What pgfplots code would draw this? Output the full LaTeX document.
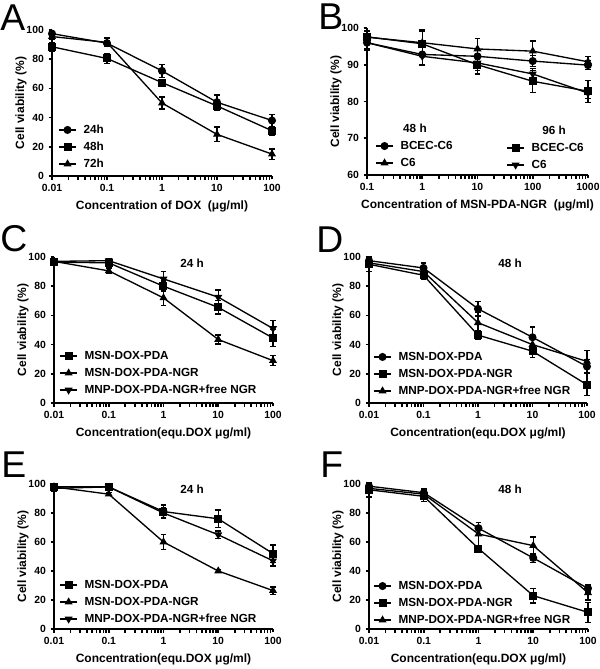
\documentclass[border=0pt]{standalone}
\usepackage{fontspec}
\setmainfont{Liberation Sans}
\usepackage{pgfplots}
\pgfplotsset{compat=1.18}

\newcommand\tickfont{\fontsize{7.8}{8}\selectfont\bfseries}
\newcommand\labfont{\fontsize{9}{10}\selectfont\bfseries}
\newcommand\legfont{\fontsize{8.8}{10}\selectfont\bfseries}
\newcommand\letfont{\fontsize{28}{28}\selectfont}

\pgfplotsset{
  legend image code/.code={\draw[mark repeat=2,mark phase=2,#1] plot coordinates {(0pt,0pt) (6.5pt,0pt) (13pt,0pt)};},
  ser/.style={black, line width=1pt, mark size=2.5pt, mark options={solid, fill=black}},
  prismax/.style={
    scale only axis, clip=false,
    axis x line*=bottom, axis y line*=left,
    axis line style={-, line width=1.2pt},
    minor x tick num=0, minor y tick num=0,
    tick align=outside, major tick length=2.6pt,
    every tick/.style={line width=1.2pt, black},
    tick label style={font=\tickfont},
    xlabel style={font=\labfont},
    ylabel style={font=\labfont},
    ylabel shift=-7pt,
    ylabel={Cell viability (\%)},
    legend cell align=left,
    legend style={draw=none, fill=none, font=\legfont, anchor=west, inner sep=0pt,
      row sep=4.75pt, nodes={inner sep=0pt, text height=6.5pt, text depth=1.5pt},
      /tikz/every odd column/.append style={column sep=5pt}},
    error bars/error bar style={line width=1pt},
    error bars/error mark options={rotate=90, mark size=2.1pt, line width=1pt, black},
  },
  doxx/.style={xmin=0.01, xmax=100, xtick={0.01,0.1,1,10,100}, xticklabels={0.01,0.1,1,10,100},
    ymin=0, ymax=100, ytick={0,20,40,60,80,100}},
}

\begin{document}
\begin{tikzpicture}
\useasboundingbox (0,0) rectangle (450pt,501.75pt);

% ---------------- A ----------------
\begin{axis}[xmode=log, prismax, doxx, /pgf/number format/assume math mode=true,
  at={(39pt,369.75pt)}, anchor=south west, width=165pt, height=109.5pt,
  xlabel={Concentration of DOX\ \ (μg/ml)},
  legend style={at={(0.027,0.199)}}]
\addplot[ser, mark=*, error bars/.cd, y dir=both, y explicit] coordinates {
 (0.01,97.5) +- (0,1.5) (0.1,91) +- (0,2) (1,72) +- (0,4.5) (10,50.5) +- (0,5) (100,38) +- (0,4)};
\addlegendentry{24h}
\addplot[ser, mark=square*, error bars/.cd, y dir=both, y explicit] coordinates {
 (0.01,88.5) +- (0,3) (0.1,80.5) +- (0,3.5) (1,64) +- (0,2) (10,48) +- (0,3) (100,31) +- (0,3)};
\addlegendentry{48h}
\addplot[ser, mark=triangle*, error bars/.cd, y dir=both, y explicit] coordinates {
 (0.01,95.5) +- (0,2) (0.1,91.5) +- (0,3) (1,50) +- (0,4) (10,28.5) +- (0,5) (100,15) +- (0,3.5)};
\addlegendentry{72h}
\end{axis}

% ---------------- B ----------------
\begin{axis}[xmode=log, prismax, /pgf/number format/assume math mode=true,
  at={(275.25pt,370.5pt)}, anchor=south west, width=165.75pt, height=110.25pt,
  xmin=0.1, xmax=1000, xtick={0.1,1,10,100,1000}, xticklabels={0.1,1,10,100,1000},
  ymin=60, ymax=100, ytick={60,70,80,90,100},
  xlabel={Concentration of MSN-PDA-NGR\ \ (μg/ml)},
  legend style={at={(0.036,0.197)}}]
\addlegendimage{empty legend}
\addlegendentry{\hspace*{2pt}48 h}
\addplot[ser, mark=*, error bars/.cd, y dir=both, y explicit] coordinates {
 (0.1,96) +- (0,2) (1,92.8) +- (0,2.8) (10,92.3) +- (0,2) (100,91) +- (0,1.5) (1000,89.9) +- (0,1.2)};
\addlegendentry{BCEC-C6}
\addplot[ser, mark=triangle*, error bars/.cd, y dir=both, y explicit] coordinates {
 (0.1,97.5) +- (0,1.5) (1,96) +- (0,3.5) (10,94.3) +- (0,2.8) (100,93.7) +- (0,2.8) (1000,90.8) +- (0,1.5)};
\addlegendentry{C6}
\end{axis}
\begin{axis}[xmode=log, prismax, hide axis,
  at={(275.25pt,370.5pt)}, anchor=south west, width=165.75pt, height=110.25pt,
  xmin=0.1, xmax=1000, ymin=60, ymax=100,
  legend style={at={(0.629,0.184)}}]
\addlegendimage{empty legend}
\addlegendentry{\hspace*{8pt}96 h}
\addplot[ser, mark=square*, error bars/.cd, y dir=both, y explicit] coordinates {
 (0.1,97.6) +- (0,1.8) (1,95.7) +- (0,3.5) (10,90) +- (0,2.5) (100,85.5) +- (0,3) (1000,82.8) +- (0,3)};
\addlegendentry{BCEC-C6}
\addplot[ser, mark=triangle*, mark options={rotate=180}, error bars/.cd, y dir=both, y explicit] coordinates {
 (0.1,96) +- (0,1.5) (1,92.3) +- (0,2.5) (10,90.5) +- (0,2) (100,87.5) +- (0,1.5) (1000,82.3) +- (0,1.5)};
\addlegendentry{C6}
\end{axis}

% ---------------- C ----------------
\begin{axis}[xmode=log, prismax, doxx, /pgf/number format/assume math mode=true,
  at={(40.5pt,199.5pt)}, anchor=south west, width=164.25pt, height=109.5pt,
  xlabel={Concentration(equ.DOX μg/ml)},
  legend style={at={(0.023,0.205)}}]
\addplot[ser, mark=square*, error bars/.cd, y dir=both, y explicit] coordinates {
 (0.01,96.5) +- (0,2.5) (0.1,96) +- (0,2.5) (1,80) +- (0,3.5) (10,65.5) +- (0,4.5) (100,44.5) +- (0,6)};
\addlegendentry{MSN-DOX-PDA}
\addplot[ser, mark=triangle*, error bars/.cd, y dir=both, y explicit] coordinates {
 (0.01,97) +- (0,1.5) (0.1,90.5) +- (0,2) (1,72) +- (0,5) (10,43.5) +- (0,3) (100,29) +- (0,3.5)};
\addlegendentry{MSN-DOX-PDA-NGR}
\addplot[ser, mark=triangle*, mark options={rotate=180}, error bars/.cd, y dir=both, y explicit] coordinates {
 (0.01,97) +- (0,1.5) (0.1,97.5) +- (0,1.5) (1,85) +- (0,5) (10,72.5) +- (0,5) (100,51) +- (0,5.5)};
\addlegendentry{MNP-DOX-PDA-NGR+free NGR}
\end{axis}

% ---------------- D ----------------
\begin{axis}[xmode=log, prismax, doxx, /pgf/number format/assume math mode=true,
  at={(276.75pt,199.5pt)}, anchor=south west, width=163.5pt, height=109.5pt,
  xlabel={Concentration(equ.DOX μg/ml)},
  legend style={at={(0.018,0.199)}}]
\addplot[ser, mark=*, error bars/.cd, y dir=both, y explicit] coordinates {
 (0.01,97.5) +- (0,1.5) (0.1,92.5) +- (0,3.5) (1,64.5) +- (0,5) (10,45) +- (0,7) (100,25) +- (0,5)};
\addlegendentry{MSN-DOX-PDA}
\addplot[ser, mark=square*, error bars/.cd, y dir=both, y explicit] coordinates {
 (0.01,95) +- (0,5) (0.1,87.5) +- (0,2.5) (1,46.5) +- (0,3) (10,35.5) +- (0,4.5) (100,12.5) +- (0,7.5)};
\addlegendentry{MSN-DOX-PDA-NGR}
\addplot[ser, mark=triangle*, error bars/.cd, y dir=both, y explicit] coordinates {
 (0.01,96) +- (0,2) (0.1,90) +- (0,3) (1,55) +- (0,7) (10,40) +- (0,5) (100,28.5) +- (0,7.5)};
\addlegendentry{MNP-DOX-PDA-NGR+free NGR}
\end{axis}

% ---------------- E ----------------
\begin{axis}[xmode=log, prismax, doxx, /pgf/number format/assume math mode=true,
  at={(40.5pt,30pt)}, anchor=south west, width=164.25pt, height=108.75pt,
  xlabel={Concentration(equ.DOX μg/ml)},
  legend style={at={(0.023,0.186)}}]
\addplot[ser, mark=square*, error bars/.cd, y dir=both, y explicit] coordinates {
 (0.01,98) +- (0,1) (0.1,98) +- (0,1) (1,81) +- (0,4.5) (10,76) +- (0,6) (100,52) +- (0,6)};
\addlegendentry{MSN-DOX-PDA}
\addplot[ser, mark=triangle*, error bars/.cd, y dir=both, y explicit] coordinates {
 (0.01,98) +- (0,1) (0.1,93) +- (0,1) (1,60) +- (0,5) (10,40) +- (0,1) (100,26.5) +- (0,2.5)};
\addlegendentry{MSN-DOX-PDA-NGR}
\addplot[ser, mark=triangle*, mark options={rotate=180}, error bars/.cd, y dir=both, y explicit] coordinates {
 (0.01,97) +- (0,2) (0.1,98) +- (0,1) (1,80) +- (0,4) (10,65) +- (0,2.5) (100,47) +- (0,3.5)};
\addlegendentry{MNP-DOX-PDA-NGR+free NGR}
\end{axis}

% ---------------- F ----------------
\begin{axis}[xmode=log, prismax, doxx, /pgf/number format/assume math mode=true,
  at={(276.75pt,30pt)}, anchor=south west, width=164.25pt, height=108.75pt,
  xlabel={Concentration(equ.DOX μg/ml)},
  legend style={at={(0.018,0.179)}}]
\addplot[ser, mark=*, error bars/.cd, y dir=both, y explicit] coordinates {
 (0.01,98.5) +- (0,1.5) (0.1,94) +- (0,2.5) (1,69.5) +- (0,4) (10,49) +- (0,3) (100,28) +- (0,2.5)};
\addlegendentry{MSN-DOX-PDA}
\addplot[ser, mark=square*, error bars/.cd, y dir=both, y explicit] coordinates {
 (0.01,96) +- (0,5) (0.1,91.5) +- (0,3.5) (1,55.5) +- (0,2) (10,23) +- (0,5) (100,11.5) +- (0,7)};
\addlegendentry{MSN-DOX-PDA-NGR}
\addplot[ser, mark=triangle*, error bars/.cd, y dir=both, y explicit] coordinates {
 (0.01,97) +- (0,2) (0.1,93) +- (0,3) (1,65.5) +- (0,8) (10,57.5) +- (0,6) (100,25) +- (0,5)};
\addlegendentry{MNP-DOX-PDA-NGR+free NGR}
\end{axis}

% panel titles and letters
\node[font=\legfont] at (144pt,304.5pt) {24 h};
\node[font=\legfont] at (382.5pt,304.5pt) {48 h};
\node[font=\legfont] at (144pt,135pt) {24 h};
\node[font=\legfont] at (382.5pt,135pt) {48 h};
\node[font=\letfont, anchor=base west, inner sep=0pt] at (0pt,478.5pt) {A};
\node[font=\letfont, anchor=base west, inner sep=0pt] at (238.5pt,479.5pt) {B};
\node[font=\letfont, anchor=base west, inner sep=0pt] at (0pt,312.75pt) {C};
\node[font=\letfont, anchor=base west, inner sep=0pt] at (237pt,312pt) {D};
\node[font=\letfont, anchor=base west, inner sep=0pt] at (0.75pt,143.25pt) {E};
\node[font=\letfont, anchor=base west, inner sep=0pt] at (240pt,143.25pt) {F};
\end{tikzpicture}
\end{document}
